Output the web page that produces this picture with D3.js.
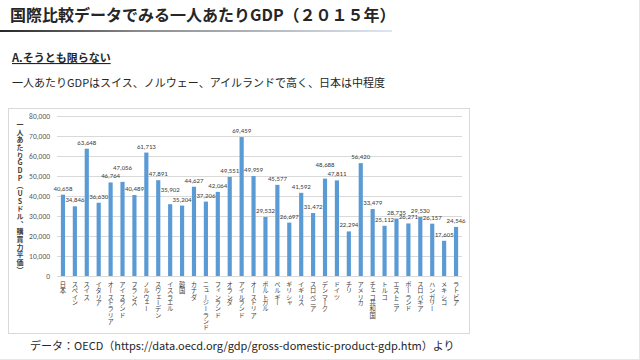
<!DOCTYPE html>
<html><head><meta charset="utf-8">
<script src="https://cdn.jsdelivr.net/npm/d3@7"></script>
<style>
html,body{margin:0;padding:0;background:#fff;}
svg{display:block;font-family:"Noto Sans CJK JP","Noto Sans",sans-serif;}
</style></head>
<body><svg id="c" width="640" height="360"></svg>
<script>
const countries = ["日本","スペイン","スイス","イタリア","オーストラリア","アイスランド","フランス","ノルウェー","スウェーデン","イスラエル","韓国","カナダ","ニュージーランド","フィンランド","オランダ","アイルランド","オーストリア","ポルトガル","ベルギー","ギリシャ","イギリス","スロベニア","デンマーク","ドイツ","チリ","アメリカ","チェコ共和国","トルコ","エストニア","ポーランド","スロバキア","ハンガリー","メキシコ","ラトビア"];
const gdp = [40658,34846,63648,36630,46764,47056,40489,61713,47891,35902,35204,44627,37206,42064,49551,69459,49959,29532,45577,26697,41592,31472,48688,47811,22294,56420,33479,25112,28735,26271,29530,26157,17605,24546];
const yTicks = [0,10000,20000,30000,40000,50000,60000,70000,80000];
const titleText = "国際比較データでみる一人あたりGDP（２０１５年）";
const headText = "A.そうとも限らない";
const subText = "一人あたりGDPはスイス、ノルウェー、アイルランドで高く、日本は中程度";
const yTitle = "一人あたりGDP（USドル、購買力平価）";
const sourceText = "データ：OECD（https://data.oecd.org/gdp/gross-domestic-product-gdp.htm）より";

const svg = d3.select("#c");
const defs = svg.append("defs");
const g = defs.append("linearGradient").attr("id","tl").attr("x1","0").attr("x2","1").attr("y1","0").attr("y2","0");
g.append("stop").attr("offset","0").attr("stop-color","#262626");
g.append("stop").attr("offset","0.35").attr("stop-color","#8a8a8a");
g.append("stop").attr("offset","1").attr("stop-color","#dce6f2");

// page border
svg.append("line").attr("x1",639.5).attr("x2",639.5).attr("y1",0).attr("y2",360).attr("stroke","#e6e6e6");
svg.append("line").attr("x1",0).attr("x2",640).attr("y1",359.5).attr("y2",359.5).attr("stroke","#e6e6e6");

svg.append("text").attr("x",10).attr("y",21).attr("font-size",16).attr("font-weight","bold").attr("fill","#262626").text(titleText);
svg.append("rect").attr("x",0).attr("y",30).attr("width",392).attr("height",2).attr("fill","url(#tl)");

svg.append("text").attr("x",12).attr("y",62).attr("font-size",11).attr("font-weight","bold").attr("fill","#262626").attr("text-decoration","underline").text(headText);
svg.append("text").attr("x",12).attr("y",87).attr("font-size",11).attr("fill","#262626").text(subText);

// chart box
svg.append("rect").attr("x",8.5).attr("y",108.5).attr("width",461).attr("height",225).attr("fill","#fff").attr("stroke","#d9d9d9");

const x = d3.scaleBand().domain(countries).range([57,462]).paddingInner(0.65).paddingOuter(0.325);
const y = d3.scaleLinear().domain([0,80000]).range([276,116]);

const yAxis = d3.axisLeft(y).tickValues(yTicks).tickSize(-(462-57)).tickPadding(7).tickFormat(d3.format(","));
const ya = svg.append("g").attr("transform","translate(57,0)").call(yAxis);
ya.select(".domain").remove();
ya.selectAll(".tick line").attr("stroke","#d9d9d9");
ya.selectAll(".tick text").attr("font-size",7.5).attr("fill","#595959").attr("font-family","Calibri,'Liberation Sans',sans-serif");

svg.append("line").attr("x1",57).attr("x2",462).attr("y1",276.5).attr("y2",276.5).attr("stroke","#d9d9d9");

// vertical text helper: one text element, one tspan per character
function vtext(parent, str, cx, top, step, size, weight, fill){
  const t = parent.append("text").attr("font-size",size).attr("fill",fill).attr("font-weight",weight)
    .style("writing-mode","vertical-rl").style("text-orientation","upright");
  Array.from(str).forEach((ch,i)=>{
    t.append("tspan").attr("x",cx).attr("y",top+i*step).text(ch);
  });
  return t;
}

const xl = svg.append("g");
countries.forEach(c=>{
  vtext(xl, c, x(c)+x.bandwidth()/2, 281, 6.3, 6.3, "normal", "#404040");
});

svg.append("g").selectAll("rect").data(gdp).join("rect")
  .attr("x",(d,i)=>x(countries[i])).attr("width",x.bandwidth())
  .attr("y",d=>y(d)).attr("height",d=>y(0)-y(d)).attr("fill","#5b9bd5");

// data labels: lift a label when its neighbour's bar top is almost level and lower
function lift(i){
  const v = gdp[i];
  for (const j of [i-1,i+1]) {
    if (j<0 || j>=gdp.length) continue;
    if (Math.abs(y(v)-y(gdp[j]))<3 && v>gdp[j]) return 8;
  }
  return 0;
}
svg.append("g").selectAll("text").data(gdp).join("text")
  .attr("x",(d,i)=>x(countries[i])+x.bandwidth()/2).attr("y",(d,i)=>y(d)-4-lift(i))
  .attr("text-anchor","middle").attr("font-size",6.8).attr("fill","#404040")
  .attr("font-family","Calibri,'Liberation Sans',sans-serif")
  .text(d=>d3.format(",")(d));

vtext(svg, yTitle, 20, 121, 7.65, 7, "bold", "#404040");

svg.append("text").attr("x",30).attr("y",350).attr("font-size",11).attr("fill","#262626").text(sourceText);
</script></body></html>
